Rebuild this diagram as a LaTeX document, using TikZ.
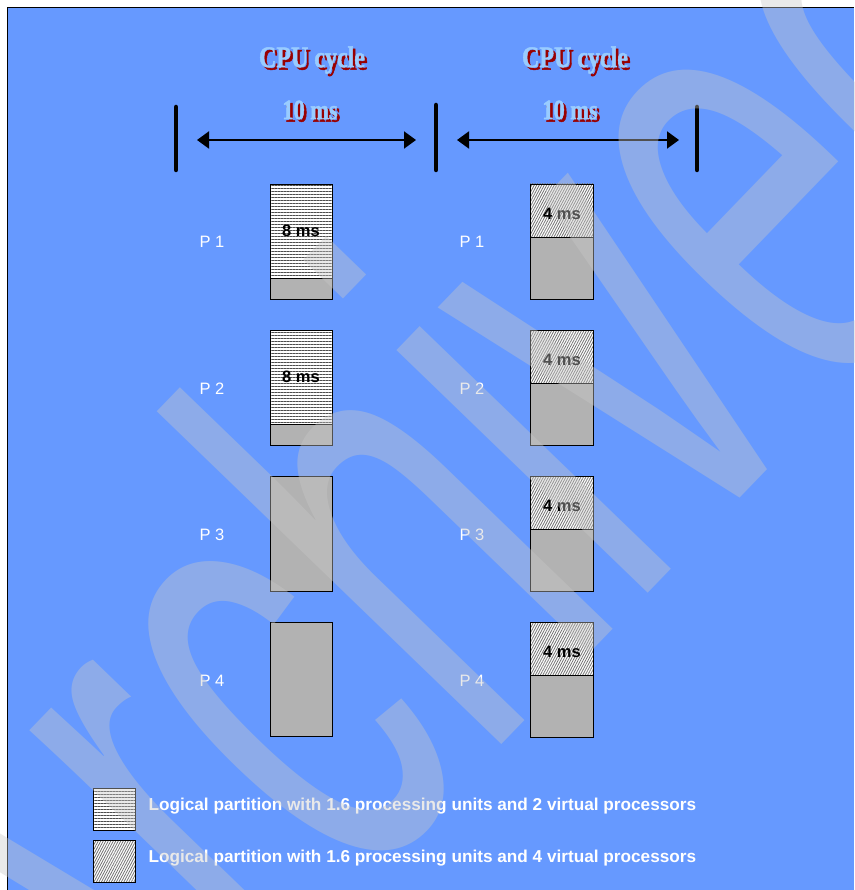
\documentclass[tikz,border=0pt]{standalone}
\usepackage{fontspec}
\setmainfont{Liberation Sans}
\newfontfamily\cycfont[FakeStretch=0.8,FakeBold=1.5]{Liberation Serif}
\usetikzlibrary{arrows.meta,patterns.meta}
\definecolor{bgblue}{HTML}{6699FF}
\definecolor{cyclt}{HTML}{99CCFF}
\definecolor{cycdk}{HTML}{990000}
\definecolor{slotgray}{HTML}{B2B2B2}
\definecolor{wmgray}{HTML}{C8C8C8}
\tikzset{
  slot/.style={draw=black,line width=0.9pt,fill=slotgray},
  vptwo/.style={draw=black,line width=0.9pt,preaction={fill=white},
    pattern={Lines[distance=3pt,line width=0.7pt]},pattern color=black!70},
  vpfour/.style={draw=black,line width=0.9pt,preaction={fill=white},
    pattern={Lines[angle=62,distance=2.2pt,line width=0.8pt]},pattern color=black!55},
  bar/.style={line width=4.5pt,line cap=round},
  span/.style={line width=2pt,{Triangle[length=12pt,width=17pt]}-{Triangle[length=12pt,width=17pt]}},
  cyc/.style={font=\cycfont\bfseries\fontsize{30}{30}\selectfont},
  tenms/.style={font=\cycfont\bfseries\fontsize{28}{28}\selectfont},
  plabel/.style={text=white,font=\fontsize{16.5}{17}\selectfont},
  mslabel/.style={font=\bfseries\fontsize{16.5}{17}\selectfont},
  legend/.style={text=white,anchor=west,font=\bfseries\fontsize{17.2}{17}\selectfont},
  watermark/.style={anchor=base,rotate=46,yscale=1.74,text=wmgray,opacity=0.4,
    font=\fontsize{380}{380}\selectfont}
}
% shadowed title text: dark copy first, light copy on top
\newcommand{\shadowed}[4]{%
  \node[#1,text=cycdk] (#2s) at ([shift={(2.5,2.5)}]#3) {#4};
  \node[#1,text=cyclt] (#2) at (#3) {#4};
}

\begin{document}
\begin{tikzpicture}[x=1pt,y=-1pt]
\useasboundingbox (0,0) rectangle (854,890);
\fill[white] (0,0) rectangle (854,890);
\fill[bgblue] (7.5,7.5) rectangle (854,890);
\draw[line width=1.2pt] (7.5,890) -- (7.5,7.5) -- (854,7.5);

% titles
\coordinate (cA) at (312,60);
\coordinate (cB) at (575,60);
\coordinate (tA) at (310,110);
\coordinate (tB) at (570,110);
\shadowed{cyc}{cpuA}{cA}{CPU cycle}
\shadowed{cyc}{cpuB}{cB}{CPU cycle}
\shadowed{tenms}{msA}{tA}{10 ms}
\shadowed{tenms}{msB}{tB}{10 ms}

% cycle marks
\coordinate (t0) at (176,140);
\coordinate (t1) at (436,140);
\coordinate (t2) at (697,140);
\draw[bar] (176,107) -- (176,170);
\draw[bar] (436,105) -- (436,170);
\draw[bar] (697,107) -- (697,170);
\draw[span,shorten <=21pt,shorten >=20pt] (t0) -- (t1);
\draw[span,shorten <=21pt,shorten >=18pt] (t1) -- (t2);

% first cycle: 2 virtual processors
\draw[vptwo] (270,184) rectangle (332,278);
\draw[slot] (270,278) rectangle (332,299);
\draw[vptwo] (270,330) rectangle (332,424);
\draw[slot] (270,424) rectangle (332,445);
\draw[slot] (270,476) rectangle (332,591);
\draw[slot] (270,622) rectangle (332,736);
\node[mslabel] (eA) at (301,231) {8 ms};
\node[mslabel] (eB) at (301,377) {8 ms};

% second cycle: 4 virtual processors
\foreach \y/\n in {184/1,330/2,476/3,622/4}{
  \draw[vpfour] (530,\y) rectangle (593,\y+53);
  \draw[slot] (530,\y+53) rectangle (593,\y+115);
  \node[mslabel] (f\n) at (562,\y+30) {4 ms};
}

% processor labels
\foreach \y/\n in {242/1,389/2,535/3,681/4}{
  \node[plabel] (pA\n) at (212,\y) {P \n};
  \node[plabel] (pB\n) at (472,\y) {P \n};
}

% legend
\draw[vptwo] (93,788) rectangle (135,830);
\draw[vpfour] (93,840) rectangle (135,882);
\node[legend] (lgA) at (145,806) {Logical partition with 1.6 processing units and 2 virtual processors};
\node[legend] (lgB) at (145,858) {Logical partition with 1.6 processing units and 4 virtual processors};

% archive stamp
\node[watermark] (mark) at (601,642) {Archived};
\end{tikzpicture}
\end{document}
